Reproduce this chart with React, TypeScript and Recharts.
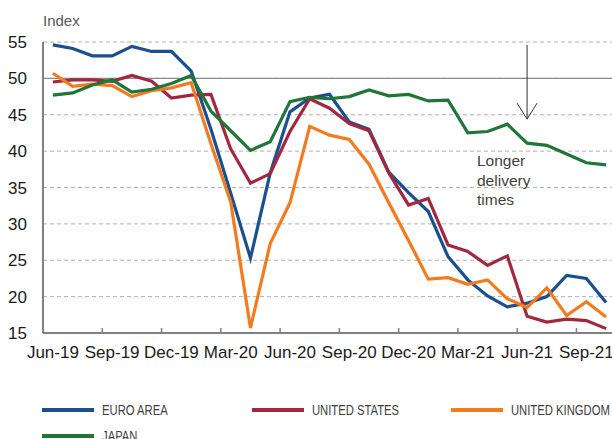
import { LineChart, Line, XAxis, YAxis, CartesianGrid, ReferenceLine } from 'recharts';

// Monthly index readings, Jun-19 .. Oct-21
const months = [
  'Jun-19', 'Jul-19', 'Aug-19', 'Sep-19', 'Oct-19', 'Nov-19', 'Dec-19',
  'Jan-20', 'Feb-20', 'Mar-20', 'Apr-20', 'May-20', 'Jun-20', 'Jul-20', 'Aug-20', 'Sep-20', 'Oct-20', 'Nov-20', 'Dec-20',
  'Jan-21', 'Feb-21', 'Mar-21', 'Apr-21', 'May-21', 'Jun-21', 'Jul-21', 'Aug-21', 'Sep-21', 'Oct-21',
];

const euroArea = [
  54.6, 54.1, 53.1, 53.1, 54.4, 53.7, 53.7,
  51.0, 43.0, 34.2, 25.3, 37.0, 45.4, 47.3, 47.8, 44.0, 43.0, 37.1, 34.3,
  31.7, 25.5, 22.3, 20.1, 18.6, 19.1, 20.0, 22.9, 22.5, 19.2,
];

const unitedStates = [
  49.5, 49.8, 49.8, 49.6, 50.4, 49.6, 47.3,
  47.7, 47.8, 40.3, 35.6, 36.9, 42.7, 47.2, 45.9, 43.8, 42.8, 37.0, 32.6,
  33.5, 27.1, 26.2, 24.3, 25.6, 17.3, 16.5, 16.9, 16.7, 15.6,
];

const unitedKingdom = [
  50.7, 48.9, 49.2, 49.0, 47.5, 48.3, 48.7,
  49.4, 41.0, 33.0, 15.7, 27.3, 32.9, 43.4, 42.2, 41.6, 38.2, 32.9, 27.7,
  22.4, 22.6, 21.7, 22.3, 19.7, 18.5, 21.2, 17.4, 19.3, 17.2,
];

const japan = [
  47.7, 48.0, 49.1, 49.8, 48.1, 48.5, 49.3,
  50.4, 45.5, 42.8, 40.1, 41.3, 46.8, 47.4, 47.2, 47.5, 48.4, 47.6, 47.8,
  46.9, 47.0, 42.5, 42.7, 43.7, 41.1, 40.8, 39.6, 38.4, 38.1,
];

const yTicks = [15, 20, 25, 30, 35, 40, 45, 50, 55];

// arrow marking "longer delivery times"
const arrowMonth = 'Jun-21';
const arrowFrom = 54.6;
const arrowTo = 44.4;

const series = [
  { key: 'euro', name: 'EURO AREA', color: '#1b4f8e' },
  { key: 'us', name: 'UNITED STATES', color: '#a2283f' },
  { key: 'uk', name: 'UNITED KINGDOM', color: '#f47a20' },
  { key: 'japan', name: 'JAPAN', color: '#217538' },
];

const data = months.map((m, i) => ({
  month: m,
  euro: euroArea[i],
  us: unitedStates[i],
  uk: unitedKingdom[i],
  japan: japan[i],
}));

const FONT = '"Liberation Sans", Arial, Helvetica, sans-serif';

// x tick: label on the month, small inward tick mark on the category boundary
function MonthTick(props: any) {
  const { x, y, payload } = props;
  const half = payload && payload.offset ? payload.offset : 9.9;
  return (
    <g>
      <line x1={x - half} x2={x - half} y1={y} y2={y - 5} stroke="#808080" strokeWidth={1.5} />
      <text x={x} y={y + 25} textAnchor="middle" fontSize={17} fill="#1a1a1a" fontFamily={FONT}>
        {payload.value}
      </text>
    </g>
  );
}

function Arrow(props: any) {
  const { x1, y1, x2, y2 } = props;
  return (
    <g>
      <line x1={x1} y1={y1} x2={x2} y2={y2} stroke="#333" strokeWidth={1} />
      <polyline
        points={`${x2 - 10},${y2 - 16} ${x2},${y2} ${x2 + 10},${y2 - 16}`}
        fill="none"
        stroke="#333"
        strokeWidth={1}
      />
    </g>
  );
}

const legendPos = [
  { left: 42, top: 410 },
  { left: 252, top: 410 },
  { left: 451, top: 410 },
  { left: 42, top: 436 },
];

export default function App() {
  return (
    <div
      style={{
        position: 'absolute',
        left: 0,
        top: 0,
        width: 612,
        height: 439,
        overflow: 'hidden',
        background: '#fff',
        fontFamily: FONT,
      }}
    >
      <div style={{ position: 'absolute', left: 43, top: 13, fontSize: 15, lineHeight: '15px', color: '#595959' }}>
        Index
      </div>

      <LineChart
        width={630}
        height={380}
        data={data}
        margin={{ top: 42, right: 14, bottom: 7, left: 0 }}
        style={{ position: 'absolute', left: 0, top: 0 }}
      >
        <CartesianGrid vertical={false} stroke="#b0b0b0" strokeDasharray="4 3" />
        <XAxis
          dataKey="month"
          scale="band"
          interval={2}
          tickSize={0}
          tickMargin={0}
          height={40}
          tick={<MonthTick />}
          axisLine={{ stroke: '#808080', strokeWidth: 2 }}
          tickLine={false}
        />
        <YAxis
          domain={[15, 55]}
          ticks={yTicks}
          interval={0}
          width={43}
          tickSize={0}
          tickMargin={16}
          axisLine={{ stroke: '#808080', strokeWidth: 2 }}
          tickLine={false}
          tick={{ fontSize: 17, fill: '#1a1a1a', fontFamily: FONT }}
        />
        <ReferenceLine y={50} stroke="#8a8a8a" strokeWidth={1.2} />
        {series.map((s) => (
          <Line
            key={s.key}
            type="linear"
            dataKey={s.key}
            stroke={s.color}
            strokeWidth={3.2}
            dot={false}
            activeDot={false}
            isAnimationActive={false}
          />
        ))}
        <ReferenceLine
          segment={[
            { x: arrowMonth, y: arrowFrom },
            { x: arrowMonth, y: arrowTo },
          ]}
          shape={Arrow}
        />
      </LineChart>

      <div
        style={{
          position: 'absolute',
          left: 477,
          top: 151,
          fontSize: 15.5,
          lineHeight: '19.5px',
          color: '#3f3f3f',
        }}
      >
        Longer
        <br />
        delivery
        <br />
        times
      </div>

      {series.map((s, i) => (
        <div
          key={s.key}
          style={{
            position: 'absolute',
            left: legendPos[i].left,
            top: legendPos[i].top - 8,
            height: 16,
            display: 'flex',
            alignItems: 'center',
            whiteSpace: 'nowrap',
          }}
        >
          <div style={{ width: 52, height: 4, background: s.color }} />
          <span
            style={{
              marginLeft: 8,
              display: 'inline-block',
              fontSize: 15,
              lineHeight: '16px',
              color: '#404040',
              transform: 'scaleX(0.75)',
              transformOrigin: 'left center',
            }}
          >
            {s.name}
          </span>
        </div>
      ))}
    </div>
  );
}
